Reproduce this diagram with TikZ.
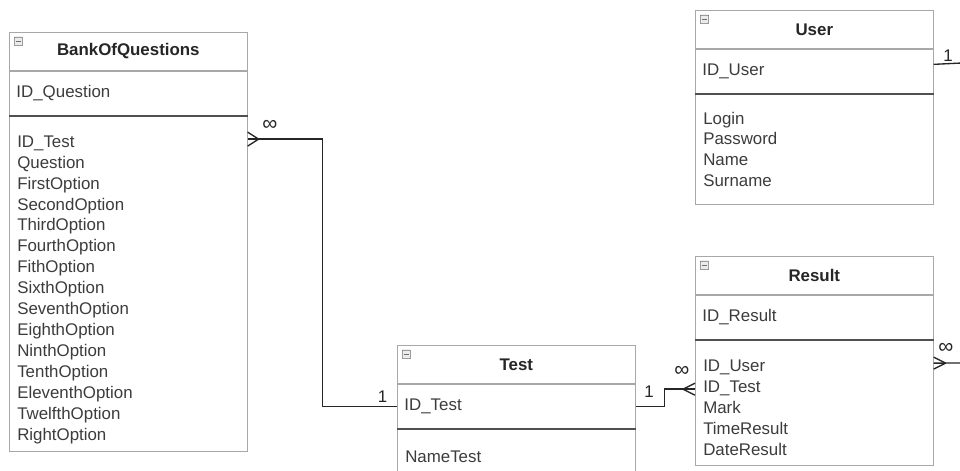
\documentclass[tikz,border=0pt]{standalone}
\usepackage{fontspec}
\setmainfont{Liberation Sans}
\usetikzlibrary{calc}
\definecolor{boxc}{HTML}{A8A8A8}
\definecolor{sepc}{HTML}{505050}
\definecolor{txtc}{HTML}{3C3C3C}
\definecolor{linkc}{HTML}{262626}
\definecolor{iconc}{HTML}{707070}

\newcommand{\tblfont}{\fontsize{12}{14.9}\selectfont}

\tikzset{
  tblhead/.style={draw=boxc, fill=white, anchor=north west, inner sep=0pt,
    minimum width=5.95cm, minimum height=0.95cm, font=\tblfont\bfseries, text=black!85},
  tblkey/.style={draw=boxc, fill=white, anchor=north west, inner xsep=0.18cm,
    text width=5.59cm, minimum height=1.125cm, align=left, text=txtc},
  tblbody/.style={draw=boxc, fill=white, anchor=north west, inner xsep=0.2cm,
    text width=5.55cm, align=left, text=txtc},
  push down/.style={execute at begin node={\rule{0pt}{#1}}},
  sepline/.style={draw=sepc, line width=1.4pt},
  collapse/.style={draw=iconc, fill=black!8, anchor=north west, inner sep=0pt,
    minimum size=0.21cm, rounded corners=0.4pt,
    path picture={\draw[iconc, line width=0.6pt]
      ([xshift=1.4pt]path picture bounding box.west) --
      ([xshift=-1.4pt]path picture bounding box.east);}},
  link/.style={draw=linkc, line width=0.95pt},
  mult/.style={text=linkc, inner sep=1pt},
  many/.style={mult, font=\fontsize{15}{15}\selectfont},
}

\begin{document}
\begin{tikzpicture}[x=0.025cm, y=-0.025cm, font=\tblfont]
  \clip (0,0) rectangle (960,471);
  \fill[white] (0,0) rectangle (960,471);

  % BankOfQuestions table
  \node[tblhead] (bankhead) at (9,32) {BankOfQuestions};
  \node[tblkey] (bankkey) at (bankhead.south west) {ID\_Question};
  \node[tblbody, push down=16.5pt, minimum height=8.375cm] (bankbody) at (bankkey.south west)
    {ID\_Test\\Question\\FirstOption\\SecondOption\\ThirdOption\\FourthOption\\FithOption\\
     SixthOption\\SeventhOption\\EighthOption\\NinthOption\\TenthOption\\
     EleventhOption\\TwelfthOption\\RightOption};
  \draw[sepline] (bankkey.south west) -- (bankkey.south east);

  % User table
  \node[tblhead] (userhead) at (695,10) {User};
  \node[tblkey] (userkey) at (userhead.south west) {ID\_User};
  \node[tblbody, minimum height=2.75cm] (userbody) at (userkey.south west)
    {Login\\Password\\Name\\Surname};
  \draw[sepline] (userkey.south west) -- (userkey.south east);

  % Result table
  \node[tblhead] (resulthead) at (695,256) {Result};
  \node[tblkey] (resultkey) at (resulthead.south west) {ID\_Result};
  \node[tblbody, push down=15.5pt, minimum height=3.125cm] (resultbody) at (resultkey.south west)
    {ID\_User\\ID\_Test\\Mark\\TimeResult\\DateResult};
  \draw[sepline] (resultkey.south west) -- (resultkey.south east);

  % Test table (runs off the bottom)
  \node[tblhead] (testhead) at (397,345) {Test};
  \node[tblkey] (testkey) at (testhead.south west) {ID\_Test};
  \node[tblbody, minimum height=1.35cm] (testbody) at (testkey.south west) {NameTest};
  \draw[sepline] (testkey.south west) -- (testkey.south east);

  % collapse icons
  \foreach \t in {bank,user,result,test}
    \node[collapse] at ([shift={(5,5)}]\t head.north west) {};

  % BankOfQuestions.ID_Test -> Test.ID_Test
  \coordinate (bankfk) at ($(bankbody.north east)+(0,23)$);
  \draw[link] (bankfk) -- ++(75,0) |- (testkey.west);
  \draw[link] ($(bankfk)+(11,0)$) -- ($(bankfk)+(0,-7)$)
              ($(bankfk)+(11,0)$) -- ($(bankfk)+(0,7)$);
  \node[many, anchor=south west] at ($(bankfk)+(13,-7)$) {∞};
  \node[mult, anchor=south east] at ($(testkey.west)+(-8,-2)$) {1};

  % Test.ID_Test -> Result.ID_Test
  \coordinate (resultfk) at ($(resultbody.north west)+(0,49)$);
  \draw[link] (testkey.east) -- ++(29,0) |- (resultfk);
  \draw[link] ($(resultfk)+(-12,0)$) -- ($(resultfk)+(0,-6)$)
              ($(resultfk)+(-12,0)$) -- ($(resultfk)+(0,6)$);
  \node[mult, anchor=south west] at ($(testkey.east)+(7,-7)$) {1};
  \node[many, anchor=south east] at ($(resultfk)+(-4,-11)$) {∞};

  % Result.ID_User -> User.ID_User (off the right edge)
  \coordinate (userfk) at ($(resultbody.north east)+(0,23)$);
  \coordinate (resultfree) at (962,363);
  \draw[link] (userfk) -- (resultfree);
  \draw[link] ($(userfk)+(12,0)$) -- ($(userfk)+(0,-6)$)
              ($(userfk)+(12,0)$) -- ($(userfk)+(0,6)$);
  \node[many, anchor=south west] at ($(userfk)+(3,-8)$) {∞};

  \coordinate (userpk) at ($(userkey.east)+(0,-7)$);
  \coordinate (userfree) at (962,63);
  \draw[link] (userpk) -- (userfree);
  \node[mult, anchor=south west] at ($(userpk)+(8,-1)$) {1};
\end{tikzpicture}
\end{document}
